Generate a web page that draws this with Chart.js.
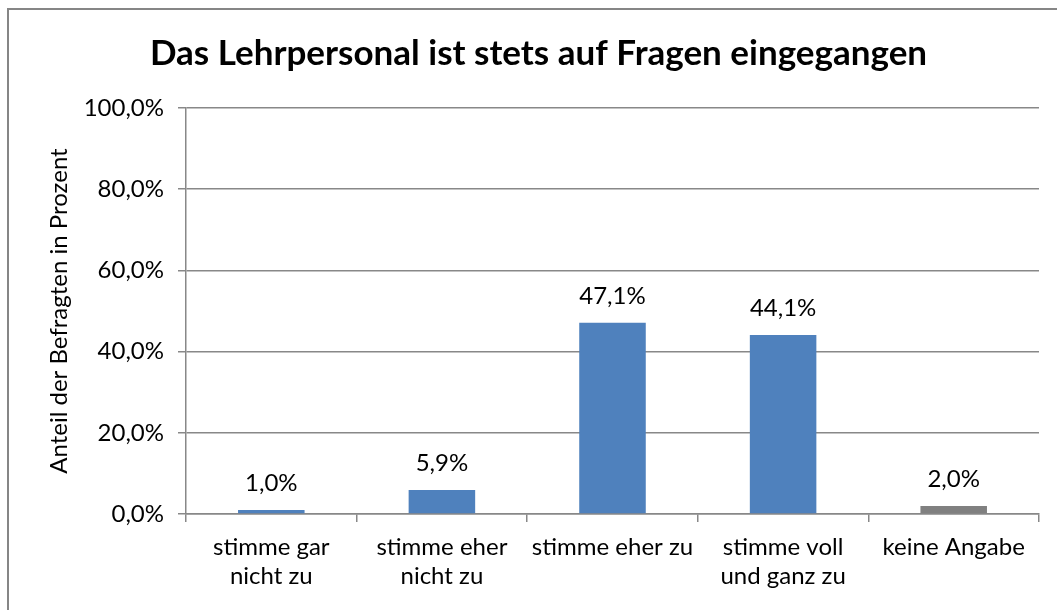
<!DOCTYPE html>
<html>
<head>
<meta charset="utf-8">
<script src="https://cdn.jsdelivr.net/npm/chart.js@4"></script>
<style>
  html, body { margin: 0; padding: 0; background: #fff; }
  #wrap { width: 1057px; height: 610px; position: relative; }
</style>
</head>
<body>
<div id="wrap"><canvas id="bar-chart"></canvas></div>
<script>
var categories = [
    ["stimme gar", "nicht zu"],
    ["stimme eher", "nicht zu"],
    "stimme eher zu",
    ["stimme voll", "und ganz zu"],
    "keine Angabe"
];
var values = [1.0, 5.9, 47.1, 44.1, 2.0];
var barColors = ["#4f81bd", "#4f81bd", "#4f81bd", "#4f81bd", "#808080"];
var chartTitle = "Das Lehrpersonal ist stets auf Fragen eingegangen";
var yTitle = "Anteil der Befragten in Prozent";

var fontName = "Lato";
var gridColor = "#888888";

function fmtPct(v) {
    return v.toFixed(1).replace(".", ",") + "%";
}

// frame line on top and left, like the original export
var framePlugin = {
    id: 'frame',
    beforeDraw: function(chart) {
        var ctx = chart.ctx;
        ctx.save();
        ctx.strokeStyle = "#868686";
        ctx.lineWidth = 2;
        ctx.beginPath();
        ctx.moveTo(8, chart.height);
        ctx.lineTo(8, 9);
        ctx.lineTo(chart.width, 9);
        ctx.stroke();
        ctx.restore();
    }
};

// value labels over the bars
var labelPlugin = {
    id: 'barLabels',
    afterDatasetsDraw: function(chart) {
        var ctx = chart.ctx;
        var meta = chart.getDatasetMeta(0);
        ctx.save();
        ctx.font = "24px " + fontName;
        ctx.fillStyle = "#000";
        ctx.textAlign = "center";
        ctx.textBaseline = "middle";
        meta.data.forEach(function(bar, i) {
            ctx.fillText(fmtPct(values[i]), bar.x, bar.y - 27);
        });
        ctx.restore();
    }
};

var ctx = document.getElementById("bar-chart").getContext('2d');
var chart = new Chart(ctx, {
    type: 'bar',
    data: {
        labels: categories,
        datasets: [{
            data: values,
            backgroundColor: barColors,
            borderWidth: 0,
            categoryPercentage: 1.0,
            barPercentage: 0.39
        }]
    },
    options: {
        responsive: true,
        maintainAspectRatio: false,
        animation: false,
        layout: { padding: { left: 38, right: 18, top: 0, bottom: 0 } },
        plugins: {
            legend: { display: false },
            tooltip: { enabled: false },
            title: {
                display: true,
                text: chartTitle,
                color: "#000",
                font: { family: fontName, size: 35, weight: 'bold', lineHeight: 1.2 },
                padding: { top: 33, bottom: 33 }
            }
        },
        scales: {
            x: {
                offset: true,
                grid: {
                    offset: true,
                    drawOnChartArea: false,
                    drawTicks: true,
                    tickLength: 8,
                    color: gridColor,
                    lineWidth: 1.5
                },
                border: { color: gridColor, width: 1.5 },
                ticks: {
                    color: "#000",
                    padding: 11,
                    maxRotation: 0,
                    autoSkip: false,
                    font: { family: fontName, size: 24, lineHeight: 1.2 }
                },
                afterFit: function(scale) { scale.height = 96; }
            },
            y: {
                min: 0,
                max: 100,
                ticks: {
                    stepSize: 20,
                    color: "#000",
                    padding: 14,
                    font: { family: fontName, size: 24 },
                    callback: function(v) { return fmtPct(v); }
                },
                grid: {
                    color: gridColor,
                    lineWidth: 1.5,
                    tickLength: 8
                },
                border: { color: gridColor, width: 1.5 },
                title: {
                    display: true,
                    text: yTitle,
                    color: "#000",
                    font: { family: fontName, size: 24, lineHeight: 1.2 },
                    padding: { top: 7, bottom: 0 }
                },
                afterFit: function(scale) { scale.width = 148; }
            }
        }
    },
    plugins: [framePlugin, labelPlugin]
});
</script>
</body>
</html>
